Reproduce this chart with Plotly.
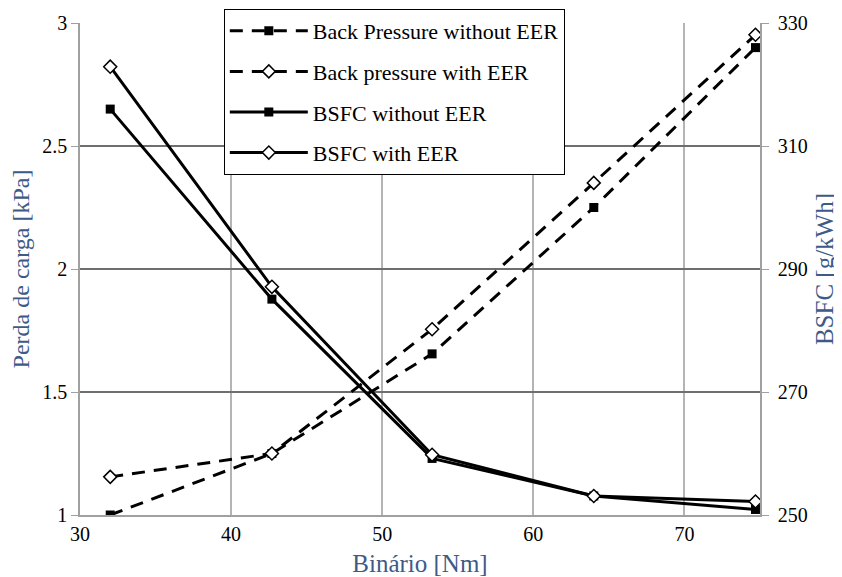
import plotly.graph_objects as go

torque = [32, 42.7, 53.3, 64, 74.7]
bp_without = [1.00, 1.25, 1.655, 2.25, 2.90]
bp_with = [1.155, 1.25, 1.755, 2.35, 2.952]
bsfc_without = [316.0, 285.1, 259.2, 253.1, 250.9]
bsfc_with = [322.9, 287.1, 259.8, 253.1, 252.2]

FONT = "Liberation Serif"
TITLE_COLOR = "#3d5a88"

fig = go.Figure()
fig.add_trace(go.Scatter(
    x=torque, y=bp_without, name="Back Pressure without EER", legendgroup="a",
    mode="lines+markers", line=dict(color="black", width=3, dash="13px,9px"),
    marker=dict(symbol="square", size=9, color="black")))
fig.add_trace(go.Scatter(
    x=torque, y=bp_with, name="Back pressure with EER", legendgroup="b",
    mode="lines+markers", line=dict(color="black", width=3, dash="13px,9px"),
    marker=dict(symbol="diamond", size=10, color="white", line=dict(color="black", width=1.5))))
fig.add_trace(go.Scatter(
    x=torque, y=bsfc_without, name="BSFC without EER", legendgroup="c", yaxis="y2",
    mode="lines+markers", line=dict(color="black", width=3),
    marker=dict(symbol="square", size=9, color="black")))
fig.add_trace(go.Scatter(
    x=torque, y=bsfc_with, name="BSFC with EER", legendgroup="d", yaxis="y2",
    mode="lines+markers", line=dict(color="black", width=3),
    marker=dict(symbol="diamond", size=10, color="white", line=dict(color="black", width=1.5))))

fig.update_layout(
    width=834, height=569,
    margin=dict(l=72, r=82, t=15, b=62, autoexpand=False),
    paper_bgcolor="white", plot_bgcolor="white",
    font=dict(family=FONT, size=20, color="black"),
    showlegend=True,
    legend=dict(x=0.2115, y=1.0285, xanchor="left", yanchor="top",
                bgcolor="white", bordercolor="black", borderwidth=1,
                font=dict(family=FONT, size=22, color="black"),
                tracegroupgap=9, itemwidth=78),
    xaxis=dict(range=[30, 75], dtick=10, tick0=30, showgrid=True, automargin=False,
               gridcolor="#b4b4b4", gridwidth=1.5, showline=True,
               linecolor="#a0a0a0", linewidth=1.5, ticks="",
               zeroline=False,
               tickfont=dict(family=FONT, size=20, color="black"),
               title=dict(text="Binário [Nm]", font=dict(family=FONT, size=25, color=TITLE_COLOR),
                          standoff=14)),
    xaxis2=dict(range=[30, 75], dtick=10, tick0=30, overlaying="x", anchor="y", side="bottom",
                showgrid=False, showline=False, showticklabels=False, automargin=False,
                ticks="outside", ticklen=7, tickcolor="#a0a0a0", tickwidth=1.5, zeroline=False),
    yaxis=dict(range=[1, 3], dtick=0.5, tick0=1, showgrid=True, automargin=False,
               gridcolor="#6e6e6e", gridwidth=1.5, showline=True,
               linecolor="#a0a0a0", linewidth=1.5, ticks="outside",
               ticklen=7, tickcolor="#a0a0a0", zeroline=False,
               tickfont=dict(family=FONT, size=20, color="black"),
               title=dict(text="Perda de carga [kPa]", font=dict(family=FONT, size=24, color=TITLE_COLOR),
                          standoff=14)),
    yaxis2=dict(range=[250, 330], dtick=20, tick0=250, overlaying="y", side="right",
                showgrid=False, showline=True, linecolor="#a0a0a0", linewidth=1.5,
                automargin=False, ticklabelstandoff=5,
                ticks="outside", ticklen=7, tickcolor="#a0a0a0", zeroline=False,
                tickfont=dict(family=FONT, size=20, color="black"),
                title=dict(text="BSFC [g/kWh]", font=dict(family=FONT, size=25, color=TITLE_COLOR),
                           standoff=9)),
)

fig.write_html("out.html")
